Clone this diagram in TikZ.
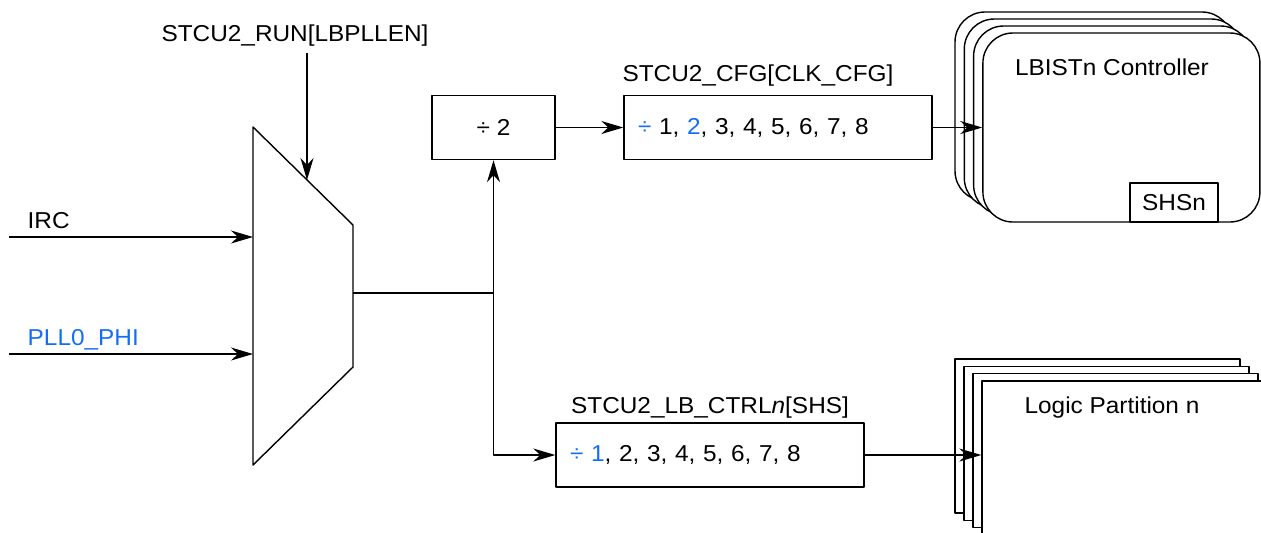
\documentclass[tikz,border=0pt]{standalone}
\usepackage{fontspec}
\setmainfont{Liberation Sans}[FakeStretch=1.06]
\usetikzlibrary{arrows.meta}
\definecolor{selblue}{RGB}{20,110,245}

\begin{document}
\begin{tikzpicture}[x=0.5pt, y=-0.5pt, line join=round, line width=0.7pt,
    every node/.style={font=\fontsize{11.5}{13}\selectfont},
    arr/.style={-{Stealth[length=11pt, width=6.5pt, inset=3.5pt]}},
    divbox/.style={draw=black, fill=white, minimum height=32pt, inner sep=0pt},
    selbox/.style={draw=black, fill=white, minimum height=32pt, text width=140pt, inner xsep=7pt, inner ysep=0pt, align=left},
    lbistbox/.style={draw=black, fill=white, rounded corners=15pt, minimum width=138.5pt, minimum height=94.5pt},
    partbox/.style={draw=black, fill=white, minimum width=142.5pt, minimum height=77pt}]
  \useasboundingbox (0,0) rectangle (1261,532);
  % Mux
  \coordinate (mux-tl) at (253,127);
  \coordinate (mux-tr) at (353,225);
  \coordinate (mux-br) at (353,367);
  \coordinate (mux-bl) at (253,465);
  \draw (mux-tl) -- (mux-tr) -- (mux-br) -- (mux-bl) -- cycle;
  \coordinate (mux-in-1) at (253,237);
  \coordinate (mux-in-2) at (253,354);
  \coordinate (mux-sel) at (307,180);
  \coordinate (mux-out) at (353,293);
  % Inputs
  \node [anchor=base west, inner sep=0pt] (lbl-irc) at (27,228) {IRC};
  \node [anchor=base west, inner sep=0pt, text=selblue] (lbl-pll) at (27,345) {PLL0\_PHI};
  \node [anchor=base, inner sep=0pt] (lbl-run) at (295,41) {STCU2\_RUN[LBPLLEN]};
  \coordinate (irc-start) at (9,237);
  \coordinate (pll-start) at (9,354);
  \coordinate (run-start) at (307,53);
  % Dividers
  \node [divbox, minimum width=61.5pt] (div-2) at (493.5,127.5) {÷ 2};
  \node [selbox] (div-cfg) at (778,127.5) {\textcolor{selblue}{÷} 1, \textcolor{selblue}{2}, 3, 4, 5, 6, 7, 8};
  \node [selbox] (div-ctrl) at (710,455) {\textcolor{selblue}{÷ 1}, 2, 3, 4, 5, 6, 7, 8};
  \node [anchor=base, inner sep=0pt] (lbl-cfg) at (758,81) {STCU2\_CFG[CLK\_CFG]};
  \node [anchor=base, inner sep=0pt] (lbl-ctrl) at (710,413) {STCU2\_LB\_CTRL\textit{n}[SHS]};
  % LBIST controllers
  \foreach \a [count=\x] in {0, ..., 3}
    \node [lbistbox] (lbist-\x) at (955 + 9.3 * \a + 138.5, 12 + 7 * \a + 94.5) {};
  \node [anchor=base, inner sep=0pt] (lbl-lbist) at (1112,75) {LBISTn Controller};
  \node [draw=black, fill=white, minimum width=44pt, minimum height=19.5pt, inner sep=0pt] (shs) at (1174,202.5) {SHSn};
  % Logic partitions
  \foreach \a [count=\x] in {0, ..., 3}
    \node [partbox] (part-\x) at (955 + 9 * \a + 142.5, 359 + 7.3 * \a + 77) {};
  \node [anchor=base, inner sep=0pt] (lbl-part) at (1112,413) {Logic Partition n};
  % Arrows
  \draw [arr] (irc-start) -- (mux-in-1);
  \draw [arr] (pll-start) -- (mux-in-2);
  \draw [arr] (run-start) -- (mux-sel);
  \coordinate (split) at (493.5,293);
  \draw (mux-out) -- (split);
  \draw [arr] (split) -- (div-2.south);
  \draw [arr] (split) |- (div-ctrl.west);
  \draw [arr] (div-2.east) -- (div-cfg.west);
  \draw [arr] (div-cfg.east) -- (lbist-4.west);
  \draw [arr] (div-ctrl.east) -- (div-ctrl.east -| part-4.west);
\end{tikzpicture}
\end{document}
